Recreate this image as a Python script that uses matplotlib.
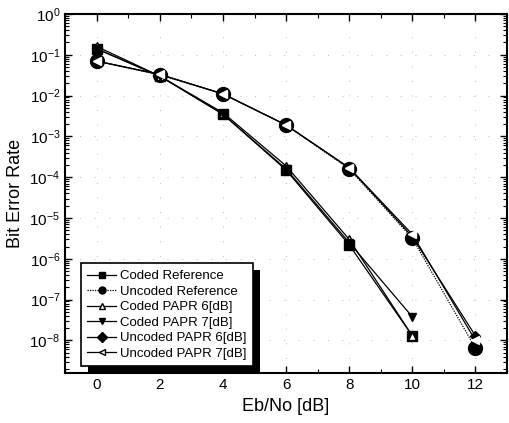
import matplotlib.pyplot as plt
import matplotlib.patheffects as pe
from matplotlib.ticker import FixedLocator, NullFormatter

plt.rcParams['font.family'] = ['Liberation Sans', 'DejaVu Sans']

ebno = [0, 2, 4, 6, 8, 10, 12]

coded_ref = [1.4e-1, 3.0e-2, 3.5e-3, 1.5e-4, 2.2e-6, 1.3e-8]
uncoded_ref = [7.0e-2, 3.2e-2, 1.1e-2, 1.9e-3, 1.6e-4, 3.2e-6, 6.5e-9]
coded_papr6 = [1.6e-1, 3.0e-2, 3.8e-3, 1.9e-4, 3.0e-6, 1.3e-8]
coded_papr7 = [1.4e-1, 3.0e-2, 3.5e-3, 1.6e-4, 2.5e-6, 3.8e-8]
uncoded_papr6 = [7.0e-2, 3.3e-2, 1.1e-2, 1.9e-3, 1.7e-4, 3.5e-6, 1.3e-8]
uncoded_papr7 = [7.0e-2, 3.3e-2, 1.1e-2, 1.9e-3, 1.7e-4, 4.0e-6, 1.0e-8]

labels = ["Coded Reference", "Uncoded Reference", "Coded PAPR 6[dB]",
          "Coded PAPR 7[dB]", "Uncoded PAPR 6[dB]", "Uncoded PAPR 7[dB]"]

fig = plt.figure(figsize=(5.09, 4.23), dpi=100)
ax = fig.add_axes([0.128, 0.118, 0.868, 0.849])

lw = 0.9
ax.plot(ebno[:6], coded_ref, color='black', lw=lw, marker='s', ms=7,
        mfc='black', mec='black', label=labels[0])
ax.plot(ebno, uncoded_ref, color='black', lw=lw, ls=(0, (1, 1)), marker='o', ms=10,
        mfc='black', mec='black', label=labels[1])
ax.plot(ebno[:6], coded_papr6, color='black', lw=lw, marker='^', ms=6,
        mfc='white', mec='black', label=labels[2])
ax.plot(ebno[:6], coded_papr7, color='black', lw=lw, marker='v', ms=6,
        mfc='black', mec='black', label=labels[3])
ax.plot(ebno, uncoded_papr6, color='black', lw=lw, marker='D', ms=5,
        mfc='black', mec='black', label=labels[4])
ax.plot(ebno, uncoded_papr7, color='black', lw=lw, marker='<', ms=6,
        mfc='white', mec='white', label=labels[5])

ax.set_yscale('log')
ax.set_xlim(-1, 13)
ax.set_ylim(10 ** -8.8, 1)
ax.set_xticks(ebno)
ax.set_xticks([-1, 1, 3, 5, 7, 9, 11, 13], minor=True)
ax.set_yticks([10.0 ** -k for k in range(0, 9)])
minor_y = [m * 10.0 ** -k for k in range(1, 10) for m in range(2, 10)]
ax.yaxis.set_minor_locator(FixedLocator(minor_y))
ax.yaxis.set_minor_formatter(NullFormatter())

ax.tick_params(which='both', direction='in', top=True, right=True, labelsize=11)
ax.tick_params(which='major', length=5, width=1)
ax.tick_params(which='minor', length=3, width=0.8)
for s in ax.spines.values():
    s.set_linewidth(1.5)

ax.grid(True, which='major', color='#bbbbbb', ls=(0, (1, 14)), lw=0.7)

ax.set_xlabel("Eb/No [dB]", fontsize=13)
ax.set_ylabel("Bit Error Rate", fontsize=13)

leg = ax.legend(loc='lower left', bbox_to_anchor=(0.02, 0.0), fontsize=9.5,
                frameon=True, fancybox=False, shadow=False, framealpha=1.0,
                handlelength=2.2, borderpad=0.5, labelspacing=0.25,
                handletextpad=0.3)
leg.get_frame().set_edgecolor('black')
leg.get_frame().set_facecolor('white')
leg.get_frame().set_linewidth(1.2)
leg.get_frame().set_path_effects([pe.SimplePatchShadow(offset=(5, -5), shadow_rgbFace='black', alpha=1.0), pe.Normal()])
for h in leg.legend_handles:
    h.set_markeredgecolor('black')
    h.set_markersize(5)

fig.savefig("out.png", dpi=100)
